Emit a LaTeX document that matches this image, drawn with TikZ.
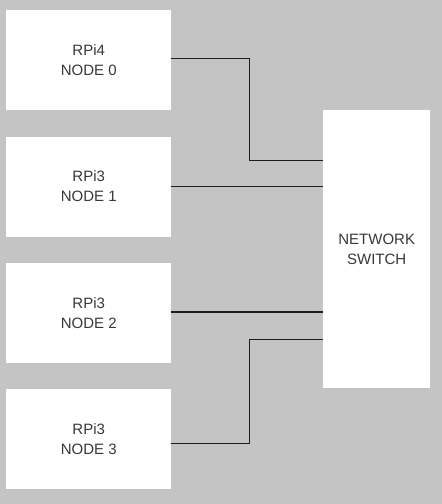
\documentclass[tikz,border=0pt]{standalone}
\usepackage{fontspec}
\setmainfont{Liberation Sans}
\usetikzlibrary{positioning}
\definecolor{rackGrey}{HTML}{C4C4C4}
\definecolor{rackInk}{HTML}{383838}
\definecolor{rackWire}{HTML}{1E1E1E}

\begin{document}
\begin{tikzpicture}[font=\fontsize{15}{20}\selectfont,
  pibox/.style={fill=white,text=rackInk,align=center,inner sep=0pt,
                minimum width=165pt,minimum height=100pt},
  wire/.style={draw=rackWire,line width=1.1pt}]
  \fill[rackGrey] (0,0) rectangle (442pt,-504pt);
  \useasboundingbox (0,0) rectangle (442pt,-504pt);
  \node[pibox,anchor=north west] (n0) at (6pt,-10pt) {RPi4\\NODE 0};
  \node[pibox,below=26pt of n0] (n1) {RPi3\\NODE 1};
  \node[pibox,below=26pt of n1] (n2) {RPi3\\NODE 2};
  \node[pibox,below=26pt of n2] (n3) {RPi3\\NODE 3};
  \node[pibox,anchor=north west,minimum width=107pt,minimum height=278pt]
    (sw) at (323pt,-110pt) {NETWORK\\SWITCH};
  % wiring
  \draw[wire] ([yshift=2pt]n0.east) -- ++(78pt,0) |- ([yshift=89pt]sw.west);
  \draw[wire] (n1.east) -- (n1.east -| sw.west);
  \draw[wire] ([yshift=1pt]n2.east) -- ([yshift=1pt]n2.east -| sw.west);
  \draw[wire] ([yshift=-4pt]n3.east) -- ++(78pt,0) |- ([yshift=-90pt]sw.west);
\end{tikzpicture}
\end{document}
